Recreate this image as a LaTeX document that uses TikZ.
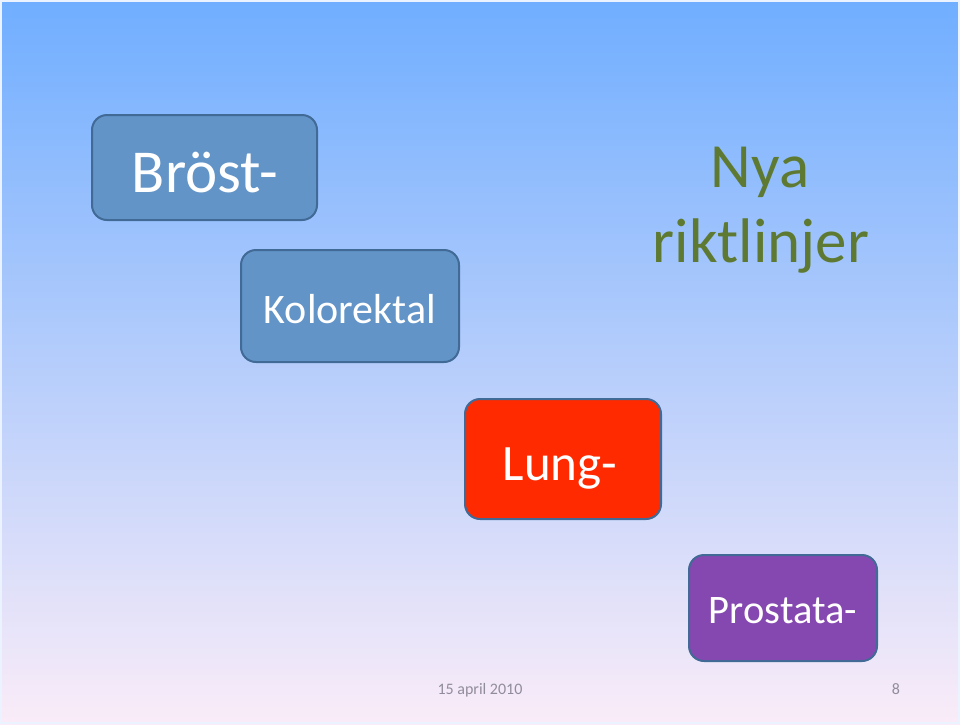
\documentclass[tikz,border=0pt]{standalone}
\usepackage{fontspec}
\setmainfont{Carlito}
\definecolor{bgtop}{RGB}{112,174,255}
\definecolor{bgmid}{RGB}{165,206,247}
\definecolor{bgbot}{RGB}{250,236,248}
\definecolor{boxblue}{RGB}{98,148,200}
\definecolor{boxline}{RGB}{65,106,150}
\definecolor{lungred}{RGB}{255,42,0}
\definecolor{prostpurple}{RGB}{133,71,176}
\definecolor{olive}{RGB}{94,122,50}
\definecolor{footgrey}{RGB}{145,140,155}
\begin{document}
\begin{tikzpicture}[x=1pt,y=-1pt,
  card/.style={draw=boxline,line width=2pt,rounded corners=15pt,inner sep=0pt},
  cardtext/.style={anchor=base,text=white,inner sep=0pt},
  foot/.style={anchor=base,text=footgrey,inner sep=0pt,font=\fontsize{16}{18}\selectfont}]
\useasboundingbox (0,0) rectangle (960,724);
\shade[top color=bgtop,middle color=bgmid,bottom color=bgbot] (0,0) rectangle (960,724);
\draw[white!85!bgtop,line width=2pt] (1,1) rectangle (959,723);
\node[card,fill=boxblue,minimum width=225pt,minimum height=105pt] (brost) at (204.5,167.5) {};
\node[card,fill=boxblue,minimum width=218pt,minimum height=112pt] (kolo) at (350,306) {};
\node[card,fill=lungred,minimum width=196pt,minimum height=120pt] (lung) at (563,459) {};
\node[card,fill=prostpurple,minimum width=188pt,minimum height=106pt] (prost) at (783,608) {};
\node[cardtext,font=\fontsize{61}{66}\selectfont] (tbrost) at (205,192) {Bröst-};
\node[cardtext,font=\fontsize{42}{48}\selectfont] (tkolo) at (350,323) {Kolorektal};
\node[cardtext,font=\fontsize{51}{56}\selectfont] (tlung) at (560,480) {Lung-};
\node[cardtext,font=\fontsize{40.5}{46}\selectfont] (tprost) at (783,623) {Prostata-};
\node[anchor=base,text=olive,inner sep=0pt,font=\fontsize{63}{70}\selectfont] (nya) at (760,187) {Nya};
\node[anchor=base,text=olive,inner sep=0pt,font=\fontsize{63}{70}\selectfont] (rikt) at (761,262) {riktlinjer};
\node[foot] (date) at (480,694) {15 april 2010};
\node[foot] (page) at (896,694) {8};
\end{tikzpicture}
\end{document}
